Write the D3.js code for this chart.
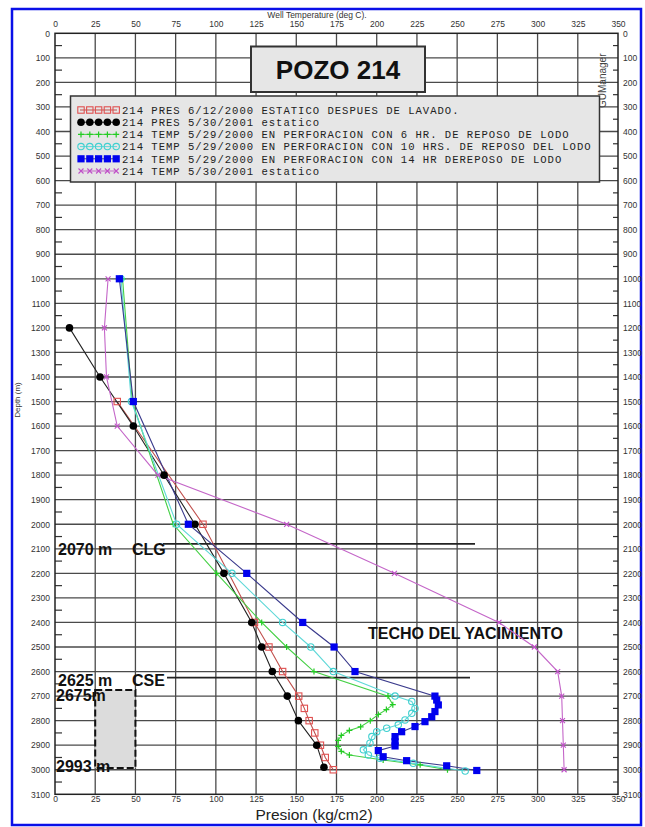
<!DOCTYPE html>
<html><head><meta charset="utf-8">
<script src="https://cdn.jsdelivr.net/npm/d3@7"></script>
<style>body{margin:0;background:#fff}svg{display:block}</style>
</head><body>
<svg id="c" width="645" height="827"></svg>
<script>
// ---------- data ----------
const depthTicks = d3.range(0, 3101, 100);
const valueTicks = d3.range(0, 351, 25);

const redDepth = [1500,2000,2400,2500,2600,2700,2750,2800,2850,2900,2950,3000];
const redVal   = [38.7,92,124,133,141.5,151.5,155,158,161.5,165,168,173];

const blackDepth = [1200,1400,1600,1800,2000,2200,2400,2500,2600,2700,2800,2900,2990];
const blackVal   = [9,28,48.7,67.8,87,105,122.3,128.5,135.1,144.4,151.3,162.7,167.2];

const greenDepth = [1000,1500,2000,2200,2400,2500,2600,2700,2735,2755,2775,2800,2825,2840,2860,2880,2905,2925,2940,2960,2980,3000];
const greenVal   = [42,48,73.5,100.5,128.5,144,161,207,210,206,201,196,190,183,178,176,176,178,183,204,227,244];

const cyanDepth = [1000,1500,2000,2200,2400,2500,2600,2700,2722,2750,2770,2797,2817,2831,2845,2865,2892,2919,2940,2953,2974,3005];
const cyanVal   = [41,47.5,75.6,110,141.5,159,173,211.4,221.8,223.8,221.8,217.6,213.4,206.2,200,197,195.8,191.7,194.8,202,222.7,255];

const blueDepth = [1000,1500,2000,2200,2400,2500,2600,2700,2716,2736,2763,2784,2804,2824,2845,2865,2886,2903,2922,2947,2963,2984,3003];
const blueVal   = [40,48.7,82.9,119.2,154,173.5,186.5,236.2,237.3,238.3,236.2,234.2,230,223.8,215.5,211.4,211.4,211.4,201,204,218.6,243.5,262.2];

const magDepth = [1000,1200,1400,1600,1800,2000,2200,2400,2500,2600,2700,2800,2900,3000];
const magVal   = [33,30.7,32,38.7,64,144,211,276,298,312.5,315,315.5,316,316.5];

const legendLabels = [
  "214 PRES 6/12/2000 ESTATICO DESPUES DE LAVADO.",
  "214 PRES 5/30/2001 estatico",
  "214 TEMP 5/29/2000 EN PERFORACION CON 6 HR. DE REPOSO DE LODO",
  "214 TEMP 5/29/2000 EN PERFORACION CON 10 HRS. DE REPOSO DEL LODO",
  "214 TEMP 5/29/2000 EN PERFORACION CON 14 HR DEREPOSO DE LODO",
  "214 TEMP 5/30/2001 estatico"
];

const series = [
  {d: redDepth,   v: redVal,   line: "#c0504d", mark: "#e05050", sym: "osq"},
  {d: blackDepth, v: blackVal, line: "#222",    mark: "#000",    sym: "dot"},
  {d: greenDepth, v: greenVal, line: "#44d044", mark: "#22cc22", sym: "plus"},
  {d: cyanDepth,  v: cyanVal,  line: "#5fd8d8", mark: "#40d0d0", sym: "ocirc"},
  {d: blueDepth,  v: blueVal,  line: "#3a3a8c", mark: "#0000ee", sym: "fsq"},
  {d: magDepth,   v: magVal,   line: "#c466c8", mark: "#c050c8", sym: "cross"}
];

// ---------- layout ----------
const svg = d3.select("#c");
const L = 55, R = 618, T = 33.3, B = 794.3;
const x = d3.scaleLinear().domain([0, 350]).range([L, R]);
const y = d3.scaleLinear().domain([0, 3100]).range([T, B]);
const fmt = d3.format("d");

// frame
svg.append("rect").attr("x", 12).attr("y", 9).attr("width", 629).attr("height", 816)
  .attr("fill", "#fff").attr("stroke", "#0a10e8").attr("stroke-width", 2.5);

// grid
const g = svg.append("g");
g.selectAll("line.vg").data(valueTicks.filter(v => v > 0 && v < 350)).join("line")
  .attr("x1", d => x(d)).attr("x2", d => x(d)).attr("y1", T).attr("y2", B)
  .attr("stroke", "#4a4a4a").attr("stroke-width", 1.3);
g.selectAll("line.hg").data(depthTicks.filter(v => v > 0 && v < 3100)).join("line")
  .attr("y1", d => y(d)).attr("y2", d => y(d)).attr("x1", L).attr("x2", R)
  .attr("stroke", "#4a4a4a").attr("stroke-width", 1.3);

// minor ticks on left / right axes
const minor = d3.range(50, 3100, 100);
g.selectAll("line.ml").data(minor).join("line")
  .attr("x1", L).attr("x2", L + 7).attr("y1", d => y(d)).attr("y2", d => y(d))
  .attr("stroke", "#333").attr("stroke-width", 1.2);
g.selectAll("line.mr").data(minor).join("line")
  .attr("x1", R - 5).attr("x2", R).attr("y1", d => y(d)).attr("y2", d => y(d))
  .attr("stroke", "#333").attr("stroke-width", 1.2);

// border
svg.append("rect").attr("x", L).attr("y", T).attr("width", R - L).attr("height", B - T)
  .attr("fill", "none").attr("stroke", "#222").attr("stroke-width", 1.5);

// axes (labels)
function styleAxis(sel) {
  sel.select(".domain").remove();
  sel.selectAll("line").remove();
  sel.selectAll("text").attr("font-family", "Liberation Sans, Arial, sans-serif")
    .attr("font-size", 8.5).attr("fill", "#333");
}
svg.append("g").attr("transform", `translate(0,${T})`)
  .call(d3.axisTop(x).tickValues(valueTicks).tickFormat(fmt).tickSize(0).tickPadding(6)).call(styleAxis);
svg.append("g").attr("transform", `translate(0,${B})`)
  .call(d3.axisBottom(x).tickValues(valueTicks).tickFormat(fmt).tickSize(0).tickPadding(2)).call(styleAxis);
svg.append("g").attr("transform", `translate(${L},0)`)
  .call(d3.axisLeft(y).tickValues(depthTicks).tickFormat(fmt).tickSize(0).tickPadding(5)).call(styleAxis);
svg.append("g").attr("transform", `translate(${R},0)`)
  .call(d3.axisRight(y).tickValues(depthTicks).tickFormat(fmt).tickSize(0).tickPadding(5)).call(styleAxis);

// axis titles
svg.append("text").attr("x", 317).attr("y", 18).attr("text-anchor", "middle")
  .attr("font-family", "Liberation Sans, Arial, sans-serif").attr("font-size", 8.5).attr("fill", "#333")
  .text("Well Temperature (deg C).");
svg.append("text").attr("x", 314).attr("y", 820).attr("text-anchor", "middle")
  .attr("font-family", "Liberation Sans, Arial, sans-serif").attr("font-size", 15.5).attr("fill", "#222")
  .text("Presion (kg/cm2)");
svg.append("text").attr("transform", "translate(20,400) rotate(-90)").attr("text-anchor", "middle")
  .attr("font-family", "Liberation Sans, Arial, sans-serif").attr("font-size", 8).attr("fill", "#333")
  .text("Depth (m)");
svg.append("text").attr("transform", "translate(606,108) rotate(-90)").attr("text-anchor", "start")
  .attr("font-family", "Liberation Sans, Arial, sans-serif").attr("font-size", 10).attr("fill", "#444")
  .text("GUManager");

// ---------- annotations ----------
const ann = svg.append("g").attr("font-family", "Liberation Sans, Arial, sans-serif")
  .attr("font-weight", "bold").attr("font-size", 16).attr("fill", "#111");
ann.append("line").attr("x1", 163).attr("x2", 475).attr("y1", y(2080)).attr("y2", y(2080))
  .attr("stroke", "#222").attr("stroke-width", 1.8);
ann.append("line").attr("x1", 167).attr("x2", 470).attr("y1", y(2625)).attr("y2", y(2625))
  .attr("stroke", "#222").attr("stroke-width", 1.8);
ann.append("rect").attr("x", x(25)).attr("y", y(2675)).attr("width", x(50) - x(25))
  .attr("height", y(2993) - y(2675)).attr("fill", "#dcdcdc").attr("stroke", "#111")
  .attr("stroke-width", 2).attr("stroke-dasharray", "7,3");
ann.append("text").attr("x", 58).attr("y", y(2100) + 6).text("2070 m");
ann.append("text").attr("x", 132).attr("y", y(2100) + 6).text("CLG");
ann.append("text").attr("x", 58).attr("y", y(2625) + 8).text("2625 m");
ann.append("text").attr("x", 132).attr("y", y(2625) + 8).text("CSE");
ann.append("text").attr("x", 56).attr("y", y(2675) + 11).text("2675m");
ann.append("text").attr("x", 56).attr("y", y(2993) + 4).text("2993 m");
ann.append("text").attr("x", 368).attr("y", 639).text("TECHO DEL YACIMIENTO");

// ---------- markers ----------
function marker(sel, sym, color, px, py) {
  if (sym === "osq") sel.append("rect").attr("x", px - 3.2).attr("y", py - 3.2).attr("width", 6.4).attr("height", 6.4)
    .attr("fill", "none").attr("stroke", color).attr("stroke-width", 1.1);
  else if (sym === "fsq") sel.append("rect").attr("x", px - 3.6).attr("y", py - 3.6).attr("width", 7.2).attr("height", 7.2)
    .attr("fill", color);
  else if (sym === "dot") sel.append("circle").attr("cx", px).attr("cy", py).attr("r", 3.8).attr("fill", color);
  else if (sym === "ocirc") sel.append("circle").attr("cx", px).attr("cy", py).attr("r", 3.2)
    .attr("fill", "none").attr("stroke", color).attr("stroke-width", 1.1);
  else if (sym === "plus") sel.append("path").attr("d", `M${px-3},${py}H${px+3}M${px},${py-3}V${py+3}`)
    .attr("stroke", color).attr("stroke-width", 1.2);
  else if (sym === "cross") sel.append("path").attr("d", `M${px-2.5},${py-2.5}L${px+2.5},${py+2.5}M${px-2.5},${py+2.5}L${px+2.5},${py-2.5}`)
    .attr("stroke", color).attr("stroke-width", 1.1);
}

const lineGen = d3.line().x(p => x(p[1])).y(p => y(p[0]));
const sg = svg.append("g");
series.forEach(s => {
  const pts = s.d.map((d, i) => [d, s.v[i]]);
  sg.append("path").attr("d", lineGen(pts)).attr("fill", "none")
    .attr("stroke", s.line).attr("stroke-width", 1.1);
});
series.forEach(s => {
  const mg = sg.append("g");
  s.d.forEach((d, i) => marker(mg, s.sym, s.mark, x(s.v[i]), y(d)));
});

// ---------- title box ----------
svg.append("rect").attr("x", 251).attr("y", 46.5).attr("width", 174).attr("height", 45.5)
  .attr("fill", "#e6e6e6").attr("stroke", "#333").attr("stroke-width", 2);
svg.append("text").attr("x", 338).attr("y", 79).attr("text-anchor", "middle")
  .attr("font-family", "Liberation Sans, Arial, sans-serif").attr("font-weight", "bold")
  .attr("font-size", 26).attr("fill", "#111").text("POZO 214");

// ---------- legend ----------
const lg = svg.append("g");
lg.append("rect").attr("x", 70.5).attr("y", 96).attr("width", 529).attr("height", 86)
  .attr("fill", "#e6e6e6").attr("stroke", "#333").attr("stroke-width", 1.5);
legendLabels.forEach((lab, i) => {
  const cy = 110 + i * 12.2;
  const s = series[i];
  lg.append("line").attr("x1", 80).attr("x2", 117).attr("y1", cy).attr("y2", cy)
    .attr("stroke", s.line).attr("stroke-width", 1);
  for (let k = 0; k < 5; k++) marker(lg, s.sym, s.mark, 81 + k * 8.8, cy);
  lg.append("text").attr("x", 122).attr("y", cy + 3.8)
    .attr("font-family", "Liberation Mono, DejaVu Sans Mono, monospace").attr("font-size", 10.6)
    .attr("letter-spacing", 0.98).attr("fill", "#222").text(lab);
});
</script>
</body></html>
